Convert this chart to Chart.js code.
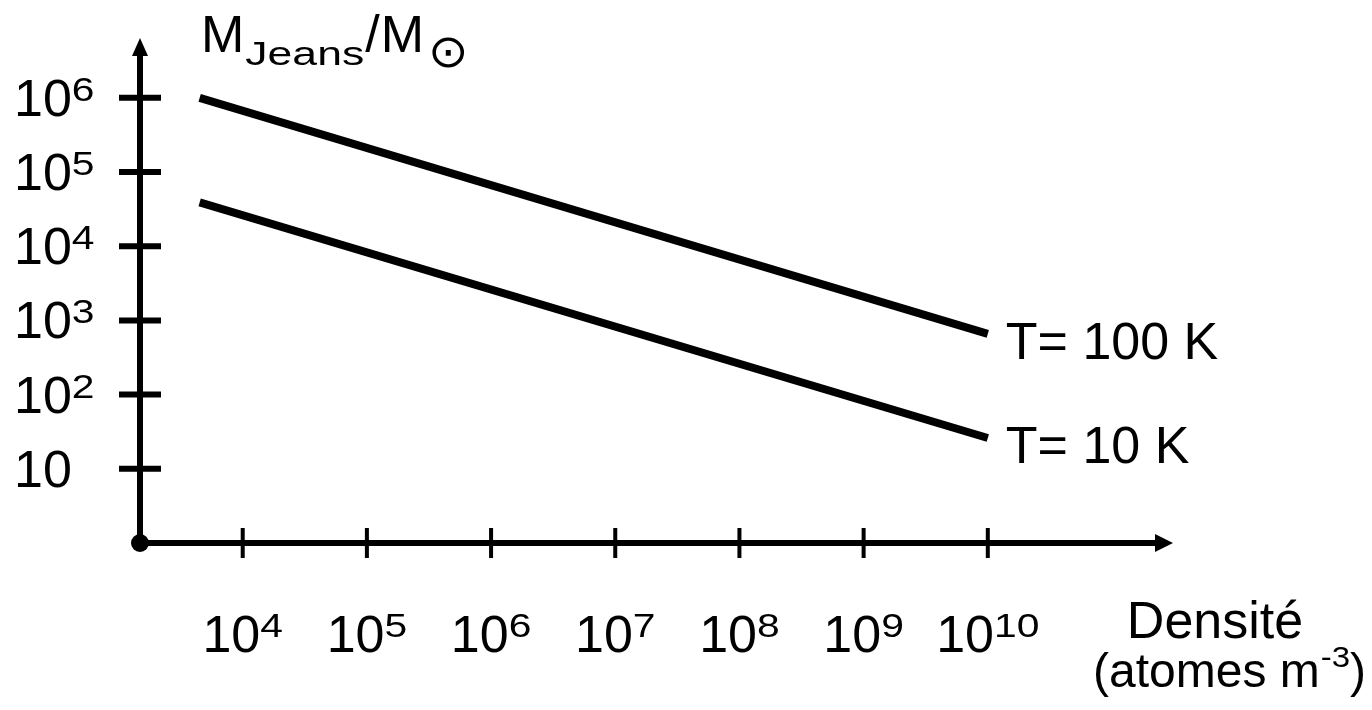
<!DOCTYPE html>
<html>
<head>
<meta charset="utf-8">
<script src="https://cdn.jsdelivr.net/npm/chart.js@4.4.1/dist/chart.umd.min.js"></script>
<style>
  html, body { margin: 0; padding: 0; background: #fff; }
</style>
</head>
<body>
<canvas id="jeans" width="1372" height="710"></canvas>
<script>
// density (atomes m^-3) at both ends of the lines, Jeans mass in solar masses
const density = [4.5e3, 1e10];
const mass100K = [1e6, 660];
const mass10K = [3.9e4, 26];
const seriesLabels = ["T= 100 K", "T= 10 K"];

const xTickValues = [1e4, 1e5, 1e6, 1e7, 1e8, 1e9, 1e10];
const xTickLabels = ["10^4", "10^5", "10^6", "10^7", "10^8", "10^9", "10^10"];
const yTickValues = [10, 1e2, 1e3, 1e4, 1e5, 1e6];
const yTickLabels = ["10", "10^2", "10^3", "10^4", "10^5", "10^6"];

// axes run from the origin dot to the arrow tips
const xMin = 1489, xMax = 3.1e11;
const yMin = 1, yMax = 6.4e6;

const FONT = '"Liberation Sans", Arial, Helvetica, sans-serif';
const SUP_SIZE = 34;
const SUP_SX = 1.2;

function txt(ctx, s, x, y, size, sx, family) {
  sx = sx || 1;
  ctx.save();
  ctx.font = size + "px " + (family || FONT);
  ctx.translate(x, y);
  ctx.scale(sx, 1);
  ctx.fillText(s, 0, 0);
  const w = ctx.measureText(s).width * sx;
  ctx.restore();
  return w;
}

function powerWidth(ctx, label) {
  const [b, e] = label.split("^");
  ctx.font = "52px " + FONT;
  let w = ctx.measureText(b).width;
  if (e) {
    ctx.font = SUP_SIZE + "px " + FONT;
    w += ctx.measureText(e).width * SUP_SX;
  }
  return w;
}

function drawPower(ctx, label, x, y) {
  const [b, e] = label.split("^");
  const w = txt(ctx, b, x, y, 52);
  if (e) txt(ctx, e, x + w, y - 15, SUP_SIZE, SUP_SX);
}

const arrowAxes = {
  id: "arrowAxes",
  afterDraw(chart) {
    const { ctx, chartArea: a } = chart;
    const x = chart.scales.x, y = chart.scales.y;
    const ox = a.left, oy = a.bottom;
    ctx.save();
    ctx.fillStyle = "#000";
    ctx.strokeStyle = "#000";
    ctx.lineCap = "butt";

    // axis lines
    ctx.lineWidth = 6;
    ctx.beginPath();
    ctx.moveTo(ox, oy); ctx.lineTo(ox, a.top + 16);
    ctx.moveTo(ox, oy); ctx.lineTo(a.right - 16, oy);
    ctx.stroke();

    // arrow heads
    ctx.beginPath();
    ctx.moveTo(ox, a.top); ctx.lineTo(ox - 8, a.top + 18); ctx.lineTo(ox + 8, a.top + 18); ctx.closePath();
    ctx.moveTo(a.right, oy); ctx.lineTo(a.right - 18, oy - 9); ctx.lineTo(a.right - 18, oy + 9); ctx.closePath();
    ctx.fill();

    // origin dot
    ctx.beginPath();
    ctx.arc(ox, oy, 9, 0, Math.PI * 2);
    ctx.fill();

    // ticks
    ctx.lineWidth = 6;
    ctx.beginPath();
    yTickValues.forEach(v => {
      const py = y.getPixelForValue(v);
      ctx.moveTo(ox - 21, py); ctx.lineTo(ox + 21, py);
    });
    ctx.stroke();
    ctx.lineWidth = 4;
    ctx.beginPath();
    xTickValues.forEach(v => {
      const px = x.getPixelForValue(v);
      ctx.moveTo(px, oy - 15); ctx.lineTo(px, oy + 15);
    });
    ctx.stroke();

    // tick labels
    ctx.textAlign = "left";
    ctx.textBaseline = "alphabetic";
    yTickValues.forEach((v, i) => {
      drawPower(ctx, yTickLabels[i], 14, y.getPixelForValue(v) + 18);
    });
    xTickValues.forEach((v, i) => {
      const px = x.getPixelForValue(v);
      drawPower(ctx, xTickLabels[i], px - powerWidth(ctx, xTickLabels[i]) / 2, oy + 109);
    });

    // line labels next to the end of each line
    const last = density.length - 1;
    [mass100K, mass10K].forEach((m, i) => {
      const px = x.getPixelForValue(density[last]);
      const py = y.getPixelForValue(m[last]);
      txt(ctx, seriesLabels[i], px + 18, py + 25, 52);
    });

    // y axis title
    let tx = 201;
    tx += txt(ctx, "M", tx, 52, 52);
    tx += txt(ctx, "Jeans", tx + 1, 65, 33, 1.35);
    tx += txt(ctx, "/", tx + 2, 52, 52) + 3;
    tx += txt(ctx, "M", tx, 52, 52);
    txt(ctx, "\u2299", tx + 4, 67, 46, 1.05, '"DejaVu Sans", sans-serif');

    // x axis title
    ctx.textAlign = "center";
    txt(ctx, "Densit\u00e9", 1215, 638, 52);
    ctx.textAlign = "left";
    let ux = 1093;
    ux += txt(ctx, "(atomes m", ux, 687, 48);
    ux += txt(ctx, "-3", ux + 1, 667, 30, 1.1) + 1;
    txt(ctx, ")", ux, 687, 48);

    ctx.restore();
  }
};

new Chart(document.getElementById("jeans"), {
  type: "line",
  data: {
    datasets: [
      {
        label: seriesLabels[0],
        data: density.map((d, i) => ({ x: d, y: mass100K[i] }))
      },
      {
        label: seriesLabels[1],
        data: density.map((d, i) => ({ x: d, y: mass10K[i] }))
      }
    ]
  },
  options: {
    responsive: false,
    animation: false,
    layout: { padding: { left: 140, right: 199, top: 38, bottom: 167 } },
    elements: {
      line: { borderColor: "#000", borderWidth: 8, tension: 0, borderCapStyle: "butt" },
      point: { radius: 0 }
    },
    plugins: { legend: { display: false }, tooltip: { enabled: false } },
    scales: {
      x: { type: "logarithmic", min: xMin, max: xMax, bounds: "data", display: false },
      y: { type: "logarithmic", min: yMin, max: yMax, bounds: "data", display: false }
    }
  },
  plugins: [arrowAxes]
});
</script>
</body>
</html>
